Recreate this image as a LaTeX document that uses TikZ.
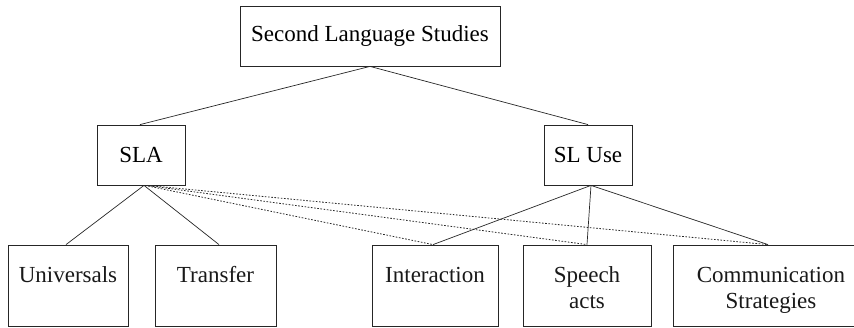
\documentclass[tikz,border=0pt]{standalone}
\usepackage{fontspec}
\setmainfont{Liberation Serif}
\begin{document}
\begin{tikzpicture}[x=1pt,y=1pt,
  box/.style={draw=black!85, line width=0.8pt, rectangle, inner sep=0pt},
  midbox/.style={box, minimum width=88pt, minimum height=60pt, font=\fontsize{23}{26}\selectfont},
  leafbox/.style={box, minimum height=81pt},
  leaftext/.style={anchor=north, inner sep=0pt, align=center, font=\fontsize{23}{26}\selectfont, text=black!90, yshift=-22pt},
  tree/.style={draw=black!85, line width=0.7pt},
  cross/.style={draw=black!85, line width=0.8pt, dash pattern=on 1.6pt off 1.6pt}
]
\useasboundingbox (0,0) rectangle (854,-328);

\node[box, minimum width=260pt, minimum height=60pt, font=\fontsize{23}{26}\selectfont] (sls) at (370,-36) {Second Language Studies};
\node[midbox] (sla) at (141,-155) {SLA};
\node[midbox] (slu) at (588,-155) {SL Use};

\node[leafbox, minimum width=120pt] (uni) at (68,-285.5) {};
\node[leafbox, minimum width=121pt] (tra) at (215.5,-285.5) {};
\node[leafbox, minimum width=126pt] (int) at (435,-285.5) {};
\node[leafbox, minimum width=128pt] (spa) at (587,-285.5) {};
\node[leafbox, minimum width=196pt] (com) at (771,-285.5) {};

\node[leaftext] (unit) at (uni.north) {Universals};
\node[leaftext] (trat) at (tra.north) {Transfer};
\node[leaftext] (intt) at (int.north) {Interaction};
\node[leaftext] (spat) at (spa.north) {Speech\\acts};
\node[leaftext] (comt) at (com.north) {Communication\\Strategies};

\draw[tree] (sls.south) -- ([xshift=-1pt]sla.north);
\draw[tree] (sls.south) -- (slu.north);
\draw[tree] ([xshift=3pt]sla.south) -- ([xshift=-2pt]uni.north);
\draw[tree] ([xshift=3pt]sla.south) -- ([xshift=3.5pt]tra.north);
\draw[tree] ([xshift=3pt]slu.south) -- ([xshift=-2pt]int.north);
\draw[tree] ([xshift=3pt]slu.south) -- (spa.north);
\draw[tree] ([xshift=3pt]slu.south) -- ([xshift=-3pt]com.north);

\draw[cross] ([xshift=4pt]sla.south) -- ([xshift=-2pt]int.north);
\draw[cross] ([xshift=5pt]sla.south) -- (spa.north);
\draw[cross] ([xshift=6pt]sla.south) -- ([xshift=-3pt]com.north);
\end{tikzpicture}
\end{document}
